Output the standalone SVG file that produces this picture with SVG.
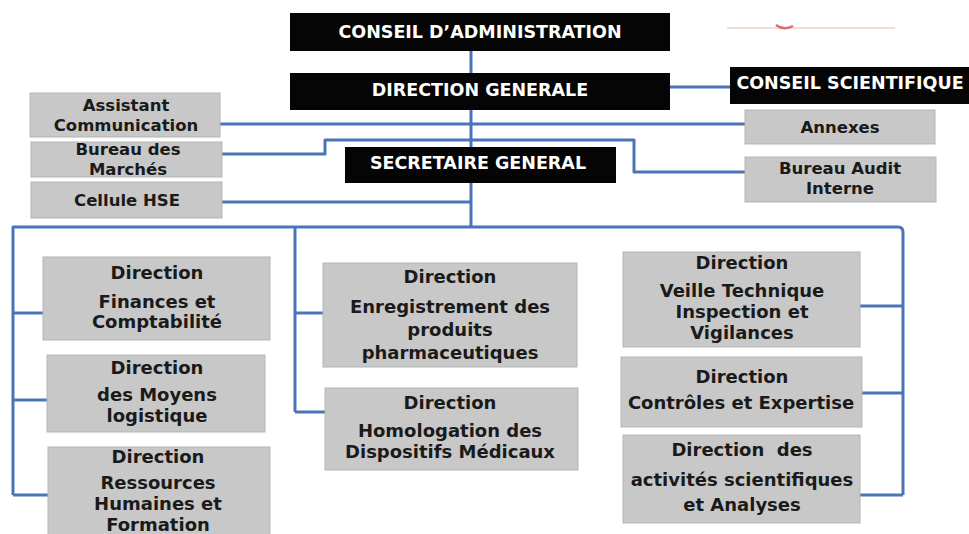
<svg xmlns="http://www.w3.org/2000/svg" width="969" height="534" viewBox="0 0 969 534">
  <style>
    .dark { fill: #050505; }
    .box { fill: #c8c8c8; stroke: #b5b5b5; stroke-width: 1; }
    .hd { font-family: "DejaVu Sans", "Liberation Sans", sans-serif; font-weight: bold; font-size: 17.5px; fill: #ffffff; text-anchor: middle; }
    .sm { font-family: "DejaVu Sans", "Liberation Sans", sans-serif; font-weight: bold; font-size: 16.5px; fill: #1a1a1a; text-anchor: middle; }
    .lg { font-family: "DejaVu Sans", "Liberation Sans", sans-serif; font-weight: bold; font-size: 18px; fill: #1a1a1a; text-anchor: middle; }
    .ln { fill: none; stroke: #4a74b9; stroke-width: 3; stroke-linejoin: round; }
  </style>
  <rect width="969" height="534" fill="#ffffff"/>

  <!-- faint mark near the top right -->
  <line x1="727" y1="28" x2="895" y2="28" stroke="#f6dcd6" stroke-width="2"/>
  <path d="M776 25 Q784 31 793 26" fill="none" stroke="#e06a6a" stroke-width="2.5"/>

  <!-- connectors -->
  <g id="connectors" class="ln">
    <path d="M471 51 V227"/>
    <path d="M670 87 H730"/>
    <path d="M220 124 H745"/>
    <path d="M222 154 H325 V140 H634 V172 H745"/>
    <path d="M222 202 H471"/>
    <path d="M13 495 V227 H898 Q903 227 903 232 V495"/>
    <path d="M13 313 H45"/>
    <path d="M13 400 H47"/>
    <path d="M13 495 H48"/>
    <path d="M295 227 V412"/>
    <path d="M295 313 H323"/>
    <path d="M295 412 H325"/>
    <path d="M860 306 H903"/>
    <path d="M862 393 H903"/>
    <path d="M860 495 H903"/>
  </g>

  <g id="conseil-administration">
    <rect class="dark" x="290" y="13" width="380" height="38"/>
    <text class="hd" x="480" y="38">CONSEIL D’ADMINISTRATION</text>
  </g>
  <g id="direction-generale">
    <rect class="dark" x="290" y="73" width="380" height="37"/>
    <text class="hd" x="480" y="96">DIRECTION GENERALE</text>
  </g>
  <g id="conseil-scientifique">
    <rect class="dark" x="730" y="67" width="239" height="37"/>
    <text class="hd" x="850" y="89">CONSEIL SCIENTIFIQUE</text>
  </g>
  <g id="secretaire-general">
    <rect class="dark" x="345" y="147" width="271" height="36"/>
    <text class="hd" x="478" y="169">SECRETAIRE GENERAL</text>
  </g>

  <g id="assistant-communication">
    <rect class="box" x="30" y="93" width="190" height="44"/>
    <text class="sm" x="126" y="111">Assistant</text>
    <text class="sm" x="126" y="131">Communication</text>
  </g>
  <g id="bureau-marches">
    <rect class="box" x="31" y="142" width="191" height="35"/>
    <text class="sm" x="128" y="155">Bureau des</text>
    <text class="sm" x="128" y="175">Marchés</text>
  </g>
  <g id="cellule-hse">
    <rect class="box" x="31" y="182" width="191" height="36"/>
    <text class="sm" x="127" y="206">Cellule HSE</text>
  </g>
  <g id="annexes">
    <rect class="box" x="745" y="110" width="190" height="34"/>
    <text class="sm" x="840" y="133">Annexes</text>
  </g>
  <g id="bureau-audit">
    <rect class="box" x="745" y="157" width="191" height="45"/>
    <text class="sm" x="840" y="174">Bureau Audit</text>
    <text class="sm" x="840" y="194">Interne</text>
  </g>

  <g id="dir-finances">
    <rect class="box" x="43" y="257" width="227" height="83"/>
    <text class="lg" x="157" y="279">Direction</text>
    <text class="lg" x="157" y="308">Finances et</text>
    <text class="lg" x="157" y="328">Comptabilité</text>
  </g>
  <g id="dir-moyens">
    <rect class="box" x="47" y="355" width="218" height="77"/>
    <text class="lg" x="157" y="374">Direction</text>
    <text class="lg" x="157" y="401">des Moyens</text>
    <text class="lg" x="157" y="422">logistique</text>
  </g>
  <g id="dir-rh">
    <rect class="box" x="48" y="447" width="222" height="90"/>
    <text class="lg" x="158" y="463">Direction</text>
    <text class="lg" x="158" y="489">Ressources</text>
    <text class="lg" x="158" y="510">Humaines et</text>
    <text class="lg" x="158" y="531">Formation</text>
  </g>
  <g id="dir-enregistrement">
    <rect class="box" x="323" y="263" width="254" height="104"/>
    <text class="lg" x="450" y="283">Direction</text>
    <text class="lg" x="450" y="313">Enregistrement des</text>
    <text class="lg" x="450" y="336">produits</text>
    <text class="lg" x="450" y="359">pharmaceutiques</text>
  </g>
  <g id="dir-homologation">
    <rect class="box" x="325" y="388" width="253" height="82"/>
    <text class="lg" x="450" y="409">Direction</text>
    <text class="lg" x="450" y="437">Homologation des</text>
    <text class="lg" x="450" y="458">Dispositifs Médicaux</text>
  </g>
  <g id="dir-veille">
    <rect class="box" x="623" y="252" width="237" height="95"/>
    <text class="lg" x="742" y="269">Direction</text>
    <text class="lg" x="742" y="297">Veille Technique</text>
    <text class="lg" x="742" y="318">Inspection et</text>
    <text class="lg" x="742" y="339">Vigilances</text>
  </g>
  <g id="dir-controles">
    <rect class="box" x="621" y="357" width="241" height="70"/>
    <text class="lg" x="742" y="383">Direction</text>
    <text class="lg" x="741" y="409">Contrôles et Expertise</text>
  </g>
  <g id="dir-activites">
    <rect class="box" x="623" y="435" width="237" height="88"/>
    <text class="lg" x="742" y="456" xml:space="preserve">Direction  des</text>
    <text class="lg" x="742" y="486">activités scientifiques</text>
    <text class="lg" x="742" y="511">et Analyses</text>
  </g>
</svg>
